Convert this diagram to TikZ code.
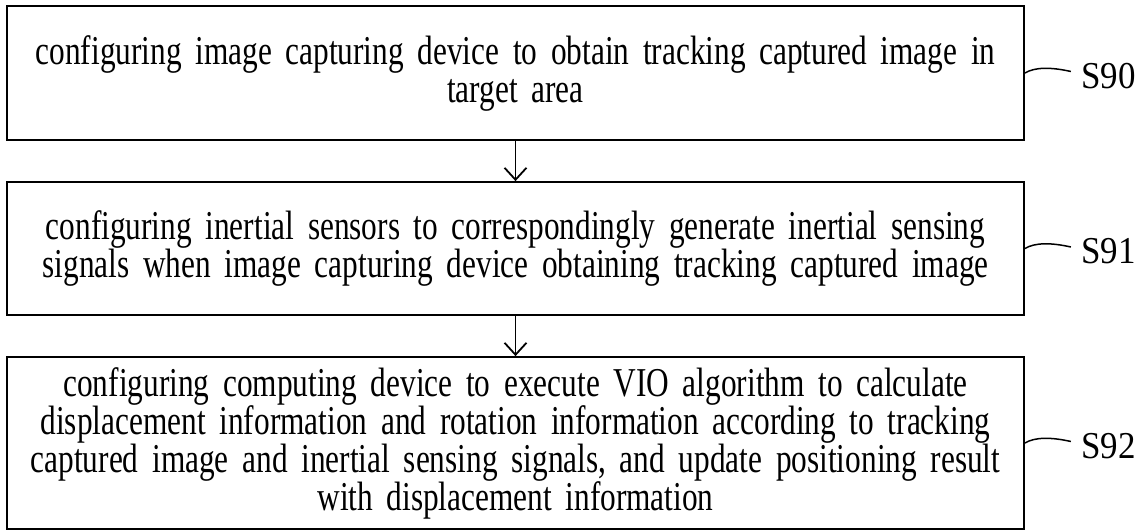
\documentclass[tikz,border=0pt]{standalone}
\usepackage{fontspec}
\setmainfont{Liberation Serif}
\newfontfamily\bodyfont[FakeStretch=0.764]{Liberation Serif}
\newfontfamily\tagfont[FakeStretch=0.92]{Liberation Serif}
\usetikzlibrary{arrows.meta}
\tikzset{
  stepbox/.style={draw, line width=1.8pt, minimum width=1017pt, align=center,
    font=\bodyfont\fontsize{41}{38}\selectfont, inner sep=0pt, text width=1010pt},
  flow/.style={line width=1.8pt, -{Straight Barb[length=12pt,width=22pt,line width=1.8pt]}},
  tag/.style={font=\tagfont\fontsize{38}{40}\selectfont, anchor=west, inner sep=0pt},
  tick/.style={line width=1.5pt}
}
\begin{document}
\begin{tikzpicture}[x=1pt,y=-1pt]
\useasboundingbox (0,0) rectangle (1146,531);
\node[stepbox, minimum height=134pt] (b90) at (515.5,73)
  {configuring image capturing device to obtain tracking captured image in\\ target area};
\node[stepbox, minimum height=133pt] (b91) at (515.5,248.5)
  {configuring inertial sensors to correspondingly generate inertial sensing\\ signals when image capturing device obtaining tracking captured image};
\node[stepbox, minimum height=172pt] (b92) at (515.5,443)
  {configuring computing device to execute VIO algorithm to calculate\\ displacement information and rotation information according to tracking\\ captured image and inertial sensing signals, and update positioning result\\ with displacement information};
\draw[flow] (b90.south) -- (b91.north);
\draw[flow] (b91.south) -- (b92.north);
\foreach \n/\lab in {b90/S90, b91/S91, b92/S92}{
  \coordinate (\n e) at (\n.east);
  \coordinate (\n t) at ([xshift=46pt,yshift=1.5pt]\n.east);
  \draw[tick] (\n e) .. controls ([xshift=10pt,yshift=6pt]\n e) and ([xshift=26pt,yshift=6pt]\n e) .. (\n t);
  \node[tag] (\n l) at ([xshift=56pt,yshift=-3pt]\n.east) {\lab};
}
\end{tikzpicture}
\end{document}
